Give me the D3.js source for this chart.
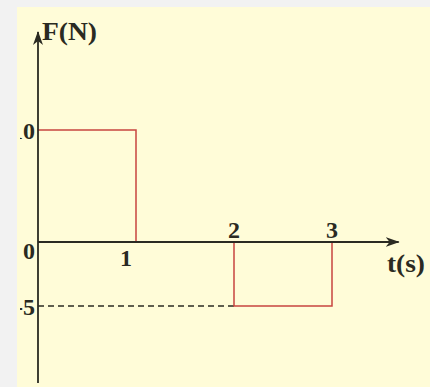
<!DOCTYPE html>
<html>
<head>
<meta charset="utf-8">
<script src="https://cdn.jsdelivr.net/npm/d3@7"></script>
<style>
  html, body { margin: 0; padding: 0; background: #f2f2f2; }
  svg { display: block; }
  .lbl { font-family: "Liberation Serif", "DejaVu Serif", serif; font-weight: bold; fill: #2a2a22; }
</style>
</head>
<body>
<div id="chart"></div>
<script>
'use strict';

// Data: force vs time (step profile)
const times = [0, 1, 1, 2, 2, 3, 3];
const forces = [10, 10, 0, 0, -5, -5, 0];
const xTicks = [1, 2, 3];
const yTicks = [10, 0, -5];
const yTickLabels = ['10', '0', '-5'];

// Config svg
const w = 430;
const h = 387;

const svg = d3.select('#chart')
    .append('svg')
    .attr('width', w)
    .attr('height', h);

const defs = svg.append('defs');

// Panel (yellow background)
const panel = {left: 17, top: 7};
defs.append('clipPath')
    .attr('id', 'panelClip')
    .append('rect')
    .attr('x', panel.left)
    .attr('y', panel.top)
    .attr('width', w - panel.left)
    .attr('height', h - panel.top);

// Labels on the left were cut off in the source crop
defs.append('clipPath')
    .attr('id', 'labelClip')
    .append('rect')
    .attr('x', 20)
    .attr('y', panel.top)
    .attr('width', w)
    .attr('height', h);

svg.append('rect')
    .attr('x', panel.left)
    .attr('y', panel.top)
    .attr('width', w - panel.left)
    .attr('height', h - panel.top)
    .attr('fill', '#fffcd8');

const g = svg.append('g').attr('clip-path', 'url(#panelClip)');

// Scales (the y axis of the sketch is not to scale, so piecewise)
const x = d3.scaleLinear().domain([0, 1]).range([38, 136]);
const y = d3.scaleLinear().domain([-5, 0, 10]).range([306, 242, 130]);

const axisColor = '#2a2a22';

// Arrow marker
defs.append('marker')
    .attr('id', 'arrow')
    .attr('viewBox', '0 0 14 10')
    .attr('refX', 13)
    .attr('refY', 5)
    .attr('markerWidth', 14)
    .attr('markerHeight', 10)
    .attr('markerUnits', 'userSpaceOnUse')
    .attr('orient', 'auto')
    .append('path')
    .attr('d', 'M0,0 L14,5 L0,10 L4,5 Z')
    .attr('fill', axisColor);

// Dashed guide at -5
g.append('line')
    .attr('x1', x(0)).attr('x2', x(2))
    .attr('y1', y(-5)).attr('y2', y(-5))
    .attr('stroke', axisColor)
    .attr('stroke-width', 1.4)
    .attr('stroke-dasharray', '6,4');

// Force line
const line = d3.line()
    .x((d, i) => x(times[i]))
    .y(d => y(d));

g.append('path')
    .datum(forces)
    .attr('d', line)
    .attr('fill', 'none')
    .attr('stroke', '#c8443f')
    .attr('stroke-width', 1.5);

// Axes
g.append('line')
    .attr('x1', x(0)).attr('x2', x(3.68))
    .attr('y1', y(0)).attr('y2', y(0))
    .attr('stroke', axisColor)
    .attr('stroke-width', 1.8)
    .attr('marker-end', 'url(#arrow)');

g.append('line')
    .attr('x1', x(0)).attr('x2', x(0))
    .attr('y1', 383).attr('y2', 32)
    .attr('stroke', axisColor)
    .attr('stroke-width', 1.8)
    .attr('marker-end', 'url(#arrow)');

// Y tick labels
const lg = svg.append('g').attr('clip-path', 'url(#labelClip)');
lg.selectAll('.ylbl')
    .data(yTicks)
    .join('text')
    .attr('class', 'lbl ylbl')
    .attr('x', 35)
    .attr('y', d => y(d) + (d === 0 ? 17 : 9))
    .attr('text-anchor', 'end')
    .style('font-size', '24px')
    .text((d, i) => yTickLabels[i]);

// X tick labels (1 below the axis, 2 and 3 above)
g.selectAll('.xlbl')
    .data(xTicks)
    .join('text')
    .attr('class', 'lbl xlbl')
    .attr('x', d => d === 1 ? x(d) - 10 : x(d))
    .attr('y', d => d === 1 ? y(0) + 24 : y(0) - 4)
    .attr('text-anchor', 'middle')
    .style('font-size', '24px')
    .text(d => d);

// Axis titles
g.append('text')
    .attr('class', 'lbl')
    .attr('x', 42)
    .attr('y', 40)
    .attr('textLength', 55)
    .attr('lengthAdjust', 'spacingAndGlyphs')
    .style('font-size', '25px')
    .text('F(N)');

g.append('text')
    .attr('class', 'lbl')
    .attr('x', 387)
    .attr('y', 272)
    .attr('textLength', 38)
    .attr('lengthAdjust', 'spacingAndGlyphs')
    .style('font-size', '25px')
    .text('t(s)');
</script>
</body>
</html>
